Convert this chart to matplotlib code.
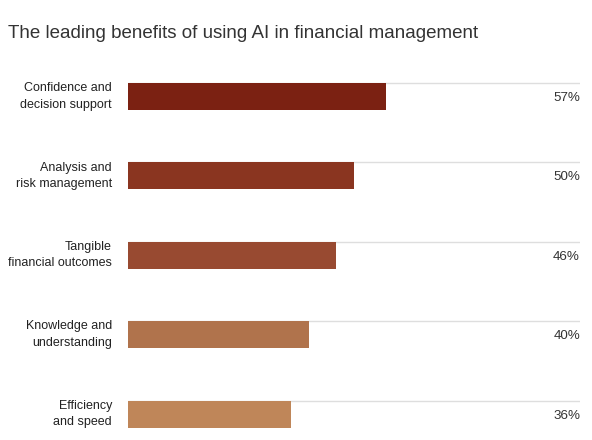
import matplotlib
matplotlib.use("Agg")
import matplotlib.pyplot as plt
from matplotlib.transforms import offset_copy

categories = ["Confidence and\ndecision support", "Analysis and\nrisk management",
              "Tangible\nfinancial outcomes", "Knowledge and\nunderstanding", "Efficiency\nand speed"]
values = [57, 50, 46, 40, 36]
colors = ["#7B2112", "#8A3520", "#984A31", "#B0734C", "#BF8659"]
title = "The leading benefits of using AI in financial management"

W, H = 592, 440
fig = plt.figure(figsize=(W / 100, H / 100), dpi=100)
plt.rcParams['font.family'] = ['Liberation Sans', 'DejaVu Sans']

left, right = 128, 580
top_px = 56.8
ax = fig.add_axes([left / W, 0, (right - left) / W, (H - top_px) / H])
spacing = 79.4
ybottom = 4 + (440 - 414) / spacing
ax.set_ylim(ybottom, -0.5)
ax.set_xlim(0, 100)
ax.axis("off")

bh = 27 / spacing
ys = list(range(len(values)))
ax.barh(ys, values, height=bh, color=colors, zorder=2)
for y in ys:
    ax.plot([0, 100], [y - bh / 2, y - bh / 2], color="#dedede", lw=1, zorder=1, solid_capstyle="butt")
for y, v in zip(ys, values):
    ax.text(100, y + 0.02, f"{v}%", ha="right", va="center", fontsize=9.6, color="#333333")
trans = offset_copy(ax.transData, fig=fig, x=-16, y=0, units="dots")
for y, c in zip(ys, categories):
    ax.text(0, y, c, ha="right", va="center", fontsize=9, color="#222222",
            transform=trans, linespacing=1.5, multialignment="right")

fig.text(8 / W, 1 - 34 / H, title, ha="left", va="center", fontsize=13.5, color="#333333")

fig.savefig("out.png", dpi=100)
